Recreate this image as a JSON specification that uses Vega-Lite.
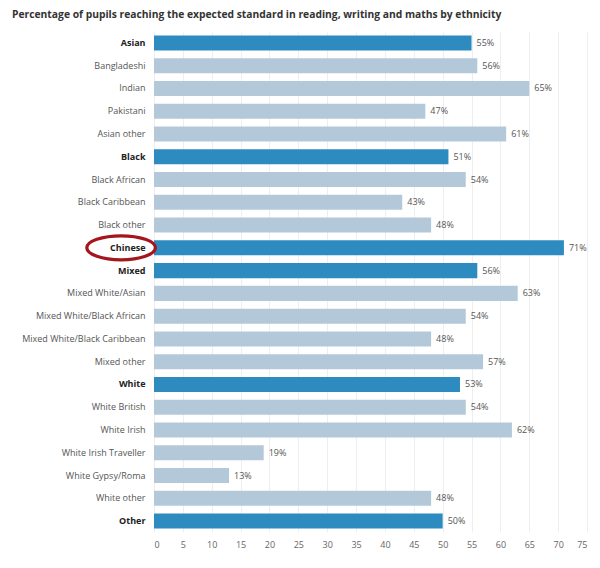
{
  "$schema": "https://vega.github.io/schema/vega-lite/v6.json",
  "autosize": {"type": "none"},
  "padding": {"left": 154, "top": 32, "right": 13, "bottom": 36},
  "width": 433,
  "height": 500,
  "background": "white",
  "title": {
    "text": "Percentage of pupils reaching the expected standard in reading, writing and maths by ethnicity",
    "anchor": "start",
    "frame": "group",
    "dx": -142,
    "offset": 12,
    "font": "Open Sans",
    "fontSize": 10.3,
    "fontWeight": "bold",
    "color": "#333333"
  },
  "config": {
    "view": {"stroke": null},
    "font": "Open Sans"
  },
  "data": {
    "values": [
      {"group": "Asian", "value": 55, "header": true},
      {"group": "Bangladeshi", "value": 56, "header": false},
      {"group": "Indian", "value": 65, "header": false},
      {"group": "Pakistani", "value": 47, "header": false},
      {"group": "Asian other", "value": 61, "header": false},
      {"group": "Black", "value": 51, "header": true},
      {"group": "Black African", "value": 54, "header": false},
      {"group": "Black Caribbean", "value": 43, "header": false},
      {"group": "Black other", "value": 48, "header": false},
      {"group": "Chinese", "value": 71, "header": true},
      {"group": "Mixed", "value": 56, "header": true},
      {"group": "Mixed White/Asian", "value": 63, "header": false},
      {"group": "Mixed White/Black African", "value": 54, "header": false},
      {"group": "Mixed White/Black Caribbean", "value": 48, "header": false},
      {"group": "Mixed other", "value": 57, "header": false},
      {"group": "White", "value": 53, "header": true},
      {"group": "White British", "value": 54, "header": false},
      {"group": "White Irish", "value": 62, "header": false},
      {"group": "White Irish Traveller", "value": 19, "header": false},
      {"group": "White Gypsy/Roma", "value": 13, "header": false},
      {"group": "White other", "value": 48, "header": false},
      {"group": "Other", "value": 50, "header": true}
    ]
  },
  "encoding": {
    "y": {
      "field": "group",
      "type": "nominal",
      "sort": null,
      "title": null,
      "scale": {"paddingInner": 0.34, "paddingOuter": 0.15},
      "axis": {
        "domain": false,
        "ticks": false,
        "labelPadding": 9,
        "labelFontSize": 9,
        "labelFont": "Open Sans",
        "labelColor": {"condition": {"test": "indexof(['Asian','Black','Chinese','Mixed','White','Other'], datum.value) >= 0", "value": "#222222"}, "value": "#555555"},
        "labelFontWeight": {"condition": {"test": "indexof(['Asian','Black','Chinese','Mixed','White','Other'], datum.value) >= 0", "value": "bold"}, "value": "normal"}
      }
    }
  },
  "layer": [
    {
      "mark": {"type": "bar"},
      "encoding": {
        "x": {
          "field": "value",
          "type": "quantitative",
          "title": null,
          "scale": {"domain": [0, 75], "nice": false},
          "axis": {
            "values": [0,5,10,15,20,25,30,35,40,45,50,55,60,65,70,75],
            "labelOverlap": false,
            "labelBound": false,
            "domain": false,
            "ticks": false,
            "labelPadding": 8,
            "labelFontSize": 9,
            "labelColor": "#666666",
            "gridColor": "#eeeeee",
            "gridWidth": 1
          }
        },
        "color": {
          "field": "header",
          "type": "nominal",
          "scale": {"domain": [true, false], "range": ["#2E8BC0", "#B3C9DA"]},
          "legend": null
        }
      }
    },
    {
      "transform": [{"calculate": "datum.value + '%'", "as": "label"}],
      "mark": {"type": "text", "align": "left", "dx": 5, "fontSize": 9, "color": "#555555"},
      "encoding": {
        "x": {
          "field": "value",
          "type": "quantitative",
          "title": null,
          "scale": {"domain": [0, 75], "nice": false},
          "axis": {
            "values": [0,5,10,15,20,25,30,35,40,45,50,55,60,65,70,75],
            "labelOverlap": false,
            "labelBound": false,
            "domain": false,
            "ticks": false,
            "labelPadding": 8,
            "labelFontSize": 9,
            "labelColor": "#666666",
            "gridColor": "#eeeeee",
            "gridWidth": 1
          }
        },
        "text": {"field": "label", "type": "nominal"}
      }
    },
    {
      "transform": [{"filter": "datum.group == 'Chinese'"}],
      "mark": {
        "type": "point",
        "shape": "M -1 0 A 1 0.35 0 1 0 1 0 A 1 0.35 0 1 0 -1 0 Z",
        "filled": false,
        "size": 4700,
        "stroke": "#A3161C",
        "strokeWidth": 3.2,
        "opacity": 1
      },
      "encoding": {
        "x": {
          "datum": -5.7,
          "type": "quantitative",
          "title": null,
          "scale": {"domain": [0, 75], "nice": false},
          "axis": {
            "values": [0,5,10,15,20,25,30,35,40,45,50,55,60,65,70,75],
            "labelOverlap": false,
            "labelBound": false,
            "domain": false,
            "ticks": false,
            "labelPadding": 8,
            "labelFontSize": 9,
            "labelColor": "#666666",
            "gridColor": "#eeeeee",
            "gridWidth": 1
          }
        }
      }
    }
  ]
}
